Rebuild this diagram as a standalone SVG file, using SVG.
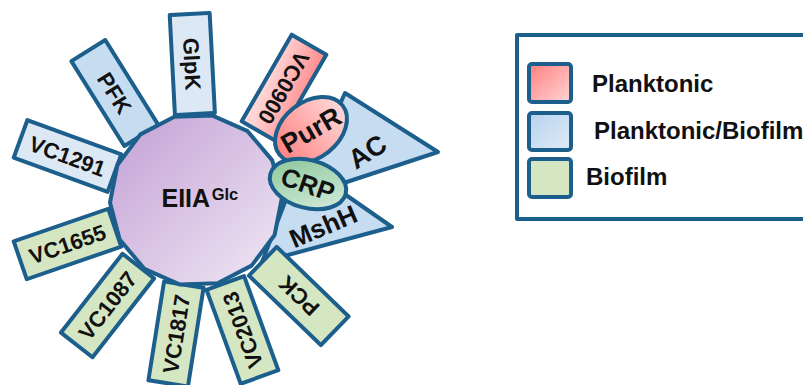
<svg xmlns="http://www.w3.org/2000/svg" width="803" height="385" viewBox="0 0 803 385">
<defs>
<linearGradient id="gPoly" x1="0" y1="0" x2="1" y2="1"><stop offset="0" stop-color="#c3a0d5"/><stop offset="1" stop-color="#f0e8f4"/></linearGradient>
<linearGradient id="gRedBox" x1="0" y1="0" x2="0.4" y2="1"><stop offset="0" stop-color="#ff8a8a"/><stop offset="1" stop-color="#ffd6d6"/></linearGradient>
<linearGradient id="gPurR" x1="0" y1="0" x2="1" y2="0"><stop offset="0" stop-color="#ff8282"/><stop offset="1" stop-color="#ffd8d8"/></linearGradient>
<linearGradient id="gCRP" x1="0" y1="0" x2="1" y2="1"><stop offset="0" stop-color="#86c496"/><stop offset="1" stop-color="#d9eee0"/></linearGradient>
<linearGradient id="gLRed" x1="0" y1="0" x2="1" y2="1"><stop offset="0" stop-color="#ff7f7f"/><stop offset="1" stop-color="#ffd6d6"/></linearGradient>
<linearGradient id="gLBlue" x1="0" y1="0" x2="1" y2="1"><stop offset="0" stop-color="#b6d1ee"/><stop offset="1" stop-color="#e0ecf7"/></linearGradient>
</defs>
<style>
.s{stroke:#1d5f8c;stroke-width:4;stroke-linejoin:round}
.b1{fill:#c6dcf1}
.b2{fill:#dce8f4}
.gr{fill:#d5e6c2}
.t{font-family:"Liberation Sans",Arial,sans-serif;font-weight:bold;fill:#111;text-anchor:middle}
.bt{font-size:22px}
.lt{font-family:"Liberation Sans",Arial,sans-serif;font-weight:bold;fill:#111;font-size:24px}
</style>
<g id="AC"><polygon class="s b1" points="345,93 438,152 298,198"/><text class="t" transform="translate(367,151) rotate(-33)" y="10" font-size="27">AC</text></g>
<g id="MshH"><polygon class="s b1" points="300,163 392,227 262,262"/><text class="t" transform="translate(323,226) rotate(-23)" y="9.5" font-size="26">MshH</text></g>
<g id="GlpK" transform="translate(192.3,64) rotate(87)"><rect class="s b2" x="-50" y="-20" width="100" height="40"/><text class="t bt" y="8">GlpK</text></g>
<g id="PFK" transform="translate(114.8,93) rotate(58)"><rect class="s b1" x="-50" y="-20" width="100" height="40"/><text class="t bt" y="8">PFK</text></g>
<g id="VC1291" transform="translate(67.5,156) rotate(20)"><rect class="s b2" x="-50" y="-20" width="100" height="40"/><text class="t bt" y="8">VC1291</text></g>
<g id="VC1655" transform="translate(67.5,244) rotate(-19)"><rect class="s gr" x="-50" y="-20" width="100" height="40"/><text class="t bt" y="8">VC1655</text></g>
<g id="VC1087" transform="translate(107.5,305.5) rotate(-52)"><rect class="s gr" x="-50" y="-20" width="100" height="40"/><text class="t bt" y="8">VC1087</text></g>
<g id="VC1817" transform="translate(176,334) rotate(-81)"><rect class="s gr" x="-50" y="-20" width="100" height="40"/><text class="t bt" y="8">VC1817</text></g>
<g id="VC2013" transform="translate(242.4,330) rotate(-110)"><rect class="s gr" x="-50" y="-20" width="100" height="40"/><text class="t bt" y="8">VC2013</text></g>
<g id="PCK" transform="translate(298.8,296) rotate(-136)"><rect class="s gr" x="-50" y="-20" width="100" height="40"/><text class="t bt" y="8">PCK</text></g>
<g id="VC0900" transform="translate(284,88) rotate(120)"><rect class="s" fill="url(#gRedBox)" x="-50" y="-20" width="100" height="40"/><text class="t bt" y="8">VC0900</text></g>
<g id="EIIAGlc"><polygon class="s" fill="url(#gPoly)" points="212.6,115.6 247.6,131.2 272.3,160.4 282,197.4 274.6,235 251.6,265.6 217.6,283.2 179.4,284.4 144.4,268.8 119.7,239.6 110,202.6 117.4,165 140.4,134.4 174.4,116.8"/><text class="t" x="161.5" y="207" font-size="25" style="text-anchor:start">EIIA<tspan font-size="16.5" dx="1.5" dy="-7">Glc</tspan></text></g>
<g id="PurR" transform="translate(311,130) rotate(-38)"><ellipse class="s" fill="url(#gPurR)" cx="0" cy="0" rx="40" ry="28"/><text class="t" transform="rotate(8)" y="9.5" font-size="27">PurR</text></g>
<g id="CRP" transform="translate(308,184) rotate(15)"><ellipse class="s" fill="url(#gCRP)" cx="0" cy="0" rx="39" ry="24"/><text class="t" transform="rotate(4)" y="9.5" font-size="26">CRP</text></g>
<g id="legend">
<rect class="s" fill="#fff" x="517" y="35" width="340" height="184"/>
<rect class="s" fill="url(#gLRed)" x="529" y="64" width="42" height="38" rx="3"/>
<rect class="s" fill="url(#gLBlue)" x="529" y="113" width="42" height="37" rx="3"/>
<rect class="s gr" x="529" y="159" width="42" height="38" rx="3"/>
<text class="lt" x="592" y="92">Planktonic</text>
<text class="lt" x="594" y="139">Planktonic/Biofilm</text>
<text class="lt" x="586" y="185">Biofilm</text>
</g>
</svg>
